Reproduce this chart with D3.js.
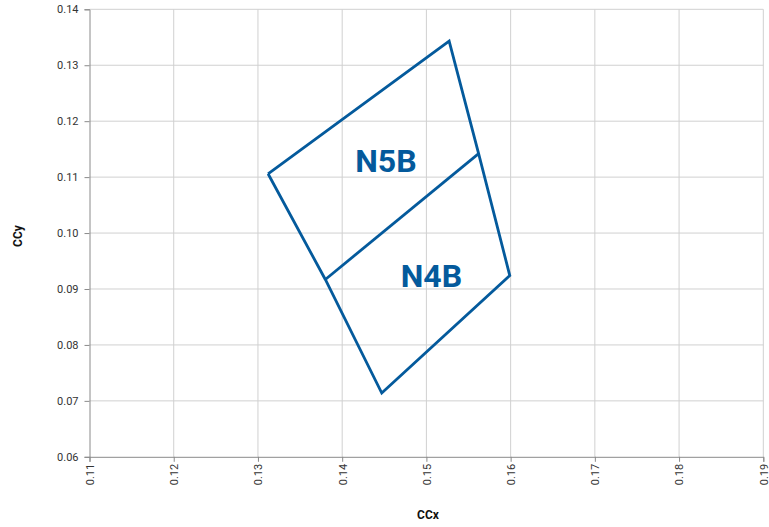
<!DOCTYPE html>
<html><head><meta charset="utf-8">
<script src="https://cdn.jsdelivr.net/npm/d3@7"></script>
<style>body{margin:0;background:#fff;font-family:Roboto,"Noto Sans",sans-serif;}</style>
</head><body><svg id="c" width="769" height="527"></svg>
<script>
const xTicks = [0.11,0.12,0.13,0.14,0.15,0.16,0.17,0.18,0.19];
const yTicks = [0.06,0.07,0.08,0.09,0.10,0.11,0.12,0.13,0.14];
const outlineX = [0.1312,0.1527,0.1562,0.1599,0.1447,0.1380,0.1312];
const outlineY = [0.1106,0.1343,0.1142,0.0924,0.0714,0.0917,0.1106];
const dividerX = [0.1380,0.1562];
const dividerY = [0.0917,0.1142];
const labels = ["N5B","N4B"];
const labelX = [0.1452,0.1506];
const labelY = [0.11095,0.09041];

const svg = d3.select("#c");
const m = {l:89.5, r:763.3, t:9.3, b:456.8};
const x = d3.scaleLinear().domain([0.11,0.19]).range([m.l,m.r]);
const y = d3.scaleLinear().domain([0.06,0.14]).range([m.b,m.t]);
const blue = "#045a9c";

// grid
svg.append("g").selectAll("line").data(xTicks.slice(1)).join("line")
  .attr("x1",d=>x(d)).attr("x2",d=>x(d)).attr("y1",m.t).attr("y2",m.b)
  .attr("stroke","#d0d0d0").attr("stroke-width",1);
svg.append("g").selectAll("line").data(yTicks.slice(1)).join("line")
  .attr("x1",m.l).attr("x2",m.r).attr("y1",d=>y(d)).attr("y2",d=>y(d))
  .attr("stroke","#d0d0d0").attr("stroke-width",1);

// axes
const ya = svg.append("g").attr("transform",`translate(${m.l},0)`)
  .call(d3.axisLeft(y).tickValues(yTicks).tickFormat(d3.format(".2f")).tickSize(5).tickPadding(6));
const xa = svg.append("g").attr("transform",`translate(0,${m.b})`)
  .call(d3.axisBottom(x).tickValues(xTicks).tickFormat(d3.format(".2f")).tickSize(5).tickPadding(6));
[ya,xa].forEach(a=>{
  a.select(".domain").attr("stroke","#8a8a8a");
  a.selectAll(".tick line").attr("stroke","#8a8a8a");
  a.selectAll("text").attr("fill","#333").style("font-size","11px").style("font-family","Roboto, sans-serif");
});
xa.selectAll("text").attr("transform","rotate(-90)").attr("text-anchor","end")
  .attr("x",-7).attr("y",0).attr("dy","0.35em");

// polygon
const line = d3.line().x(d=>x(d[0])).y(d=>y(d[1]));
svg.append("path").datum(outlineX.map((v,i)=>[v,outlineY[i]]))
  .attr("d",line).attr("fill","none").attr("stroke",blue).attr("stroke-width",2.8).attr("stroke-linejoin","miter");
svg.append("path").datum(dividerX.map((v,i)=>[v,dividerY[i]]))
  .attr("d",line).attr("fill","none").attr("stroke",blue).attr("stroke-width",2.8);

svg.append("g").selectAll("text").data(labels).join("text")
  .attr("x",(d,i)=>x(labelX[i])).attr("y",(d,i)=>y(labelY[i]))
  .attr("text-anchor","middle")
  .attr("fill",blue).style("font-size","32px").style("font-weight","bold")
  .style("font-family","Roboto, sans-serif").text(d=>d);

// axis titles
svg.append("text").attr("x",428).attr("y",519).attr("text-anchor","middle")
  .style("font-size","12px").style("font-weight","bold").attr("fill","#111").text("CCx");
svg.append("text").attr("transform","translate(22,236) rotate(-90)").attr("text-anchor","middle")
  .style("font-size","12px").style("font-weight","bold").attr("fill","#111").text("CCy");
</script></body></html>
